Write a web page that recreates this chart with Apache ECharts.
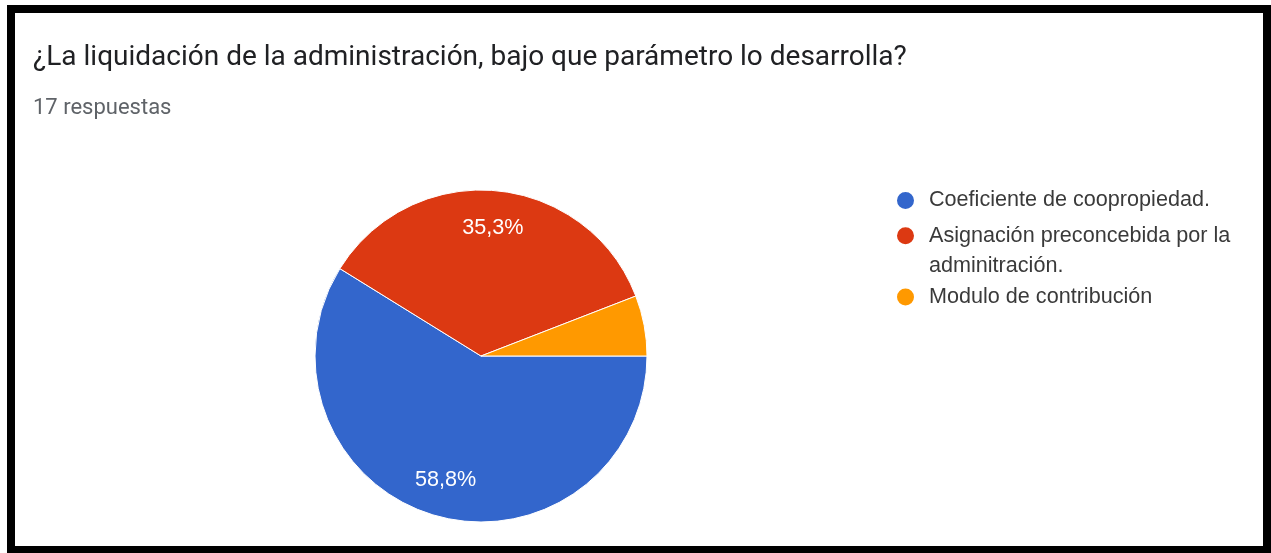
<!DOCTYPE html>
<html>
<head>
<meta charset="utf-8">
<script src="https://cdn.jsdelivr.net/npm/echarts@6/dist/echarts.min.js"></script>
<style>
  html, body { margin: 0; padding: 0; background: #ffffff; }
  #chart { width: 1271px; height: 553px; }
</style>
</head>
<body>
<div id="chart"></div>
<script>
// Survey question and answer data
const questionTitle = '¿La liquidación de la administración, bajo que parámetro lo desarrolla?';
const responseCount = '17 respuestas';
const categories = [
  'Coeficiente de coopropiedad.',
  'Asignación preconcebida por la adminitración.',
  'Modulo de contribución'
];
const answerCounts = [10, 6, 1];
const sliceColors = ['#3366cc', '#dc3912', '#ff9900'];

// Pie geometry
const CX = 481, CY = 356, R = 166;
// labels sit at 3/4 of the radius instead of the default 1/2
const LABEL_RADIUS_FACTOR = 1.5;

const LEGEND_FONT_FAMILY = '"Liberation Sans", Arial, sans-serif';
const LEGEND_FONT_SIZE = 21.6;
const LEGEND_LINE_HEIGHT = 30;
const LEGEND_MAX_WIDTH = 320;
// vertical centre of each legend entry's first line
const legendCenters = [200.5, 235.8, 297];

// Word-wrap a legend entry to the available width
const measureCtx = document.createElement('canvas').getContext('2d');
measureCtx.font = LEGEND_FONT_SIZE + 'px ' + LEGEND_FONT_FAMILY;
function wrapWords(text, maxWidth) {
  const words = text.split(' ');
  const lines = [];
  let line = '';
  words.forEach(w => {
    const candidate = line ? line + ' ' + w : w;
    if (line && measureCtx.measureText(candidate).width > maxWidth) {
      lines.push(line);
      line = w;
    } else {
      line = candidate;
    }
  });
  if (line) lines.push(line);
  return lines;
}
// Legend text is centred on the icon; padding with empty lines above keeps
// the first line level with the icon when an entry wraps.
function legendText(name) {
  const lines = wrapWords(name, LEGEND_MAX_WIDTH);
  const pad = new Array(lines.length - 1).fill('');
  return pad.concat(lines).join('\n');
}

const chart = echarts.init(document.getElementById('chart'), null, { renderer: 'canvas' });

const legends = categories.map((name, i) => {
  const nLines = wrapWords(name, LEGEND_MAX_WIDTH).length;
  const blockHalf = (2 * nLines - 1) * LEGEND_LINE_HEIGHT / 2;
  return {
    orient: 'vertical',
    left: 895,
    top: legendCenters[i] - blockHalf,
    padding: 0,
    icon: 'circle',
    itemWidth: 19,
    itemHeight: 19,
    selectedMode: false,
    formatter: legendText,
    textStyle: {
      fontFamily: LEGEND_FONT_FAMILY,
      fontSize: LEGEND_FONT_SIZE,
      color: '#3a3a3a',
      lineHeight: LEGEND_LINE_HEIGHT,
      padding: [0, 0, 0, 9]
    },
    data: [name]
  };
});

chart.setOption({
  backgroundColor: '#ffffff',
  animation: false,
  color: sliceColors,
  title: [
    {
      text: questionTitle,
      left: 33,
      top: 44,
      padding: 0,
      textStyle: { fontFamily: 'Roboto, sans-serif', fontSize: 28, fontWeight: 'normal', color: '#202124', lineHeight: 28 }
    },
    {
      text: responseCount,
      left: 33,
      top: 97,
      padding: 0,
      textStyle: { fontFamily: 'Roboto, sans-serif', fontSize: 22, fontWeight: 'normal', color: '#5f6368', lineHeight: 22 }
    }
  ],
  legend: legends,
  graphic: [
    {
      type: 'rect',
      shape: { x: 11, y: 9, width: 1256, height: 541 },
      style: { fill: 'none', stroke: '#000000', lineWidth: 8 },
      silent: true,
      z: 100
    }
  ],
  series: [
    {
      type: 'pie',
      center: [CX, CY],
      radius: R,
      startAngle: 0,
      clockwise: true,
      silent: true,
      minShowLabelAngle: 25,
      itemStyle: { borderColor: '#ffffff', borderWidth: 1 },
      label: {
        show: true,
        position: 'inside',
        color: '#ffffff',
        fontFamily: LEGEND_FONT_FAMILY,
        fontSize: 21.6,
        formatter: p => p.percent.toFixed(1).replace('.', ',') + '%'
      },
      labelLine: { show: false },
      labelLayout: function (params) {
        const r = params.labelRect;
        const lx = r.x + r.width / 2;
        const ly = r.y + r.height / 2;
        return {
          dx: (lx - CX) * (LABEL_RADIUS_FACTOR - 1),
          dy: (ly - CY) * (LABEL_RADIUS_FACTOR - 1)
        };
      },
      data: categories.map((name, i) => ({ name: name, value: answerCounts[i] }))
    }
  ]
});
</script>
</body>
</html>
